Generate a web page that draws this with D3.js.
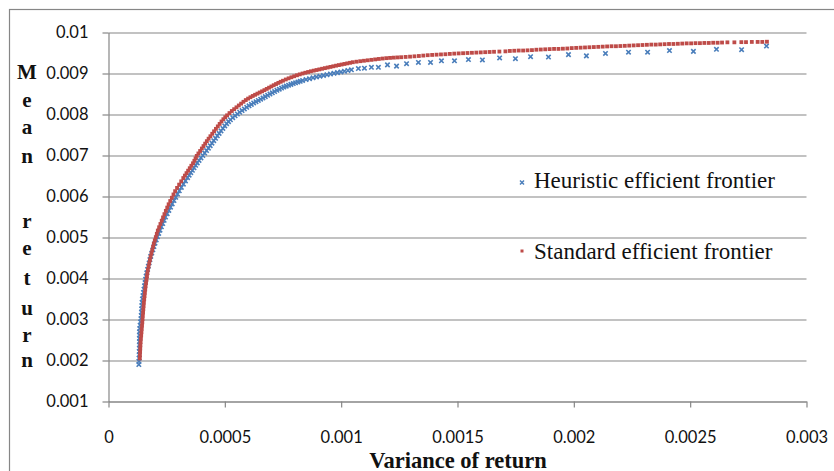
<!DOCTYPE html>
<html>
<head>
<meta charset="utf-8">
<script src="https://cdn.jsdelivr.net/npm/d3@7"></script>
<style>
body{margin:0;background:#fff}
</style>
</head>
<body>
<div id="chart"></div>
<script>

// variance of return in units of 1e-4, mean return in units of 1e-3
const heurVar = [1.304,1.311,1.318,1.322,1.325,1.329,1.332,1.333,1.333,1.333,1.333,1.344,1.361,1.379,1.396,1.409,1.418,1.427,1.435,1.444,
1.459,1.481,1.503,1.526,1.549,1.572,1.595,1.618,1.646,1.679,1.713,1.746,1.780,1.816,1.861,1.906,1.951,1.997,2.051,2.104,
2.158,2.212,2.272,2.331,2.391,2.450,2.522,2.594,2.666,2.738,2.814,2.890,2.966,3.042,3.130,3.219,3.308,3.397,3.466,3.536,
3.606,3.675,3.745,3.815,3.892,3.973,4.053,4.134,4.214,4.294,4.371,4.447,4.524,4.600,4.677,4.754,4.835,4.916,4.997,5.078,
5.159,5.240,5.34,5.44,5.54,5.64,5.74,5.84,5.94,6.04,6.14,6.24,6.34,6.44,6.54,6.64,6.74,6.84,6.94,7.04,
7.14,7.24,7.34,7.44,7.54,7.64,7.74,7.84,7.94,8.04,8.14,8.24,8.34,8.49,8.64,8.79,8.94,9.09,9.24,9.39,
9.54,9.69,9.84,9.99,10.14,10.29,10.44,10.74,11.00,11.30,11.60,11.99,12.38,12.81,13.32,13.84,14.31,14.87,15.47,16.07,
16.81,17.49,18.14,18.91,19.77,20.54,21.36,22.35,23.17,24.11,25.14,26.13,27.21,28.28]

const heurMean = [1.90,1.98,2.06,2.14,2.22,2.30,2.38,2.46,2.54,2.62,2.70,2.78,2.86,2.94,3.02,3.10,3.18,3.26,3.34,3.42,
3.50,3.58,3.66,3.74,3.82,3.90,3.98,4.06,4.14,4.22,4.30,4.38,4.46,4.54,4.62,4.70,4.78,4.86,4.94,5.02,
5.10,5.18,5.26,5.34,5.42,5.50,5.58,5.66,5.74,5.82,5.90,5.98,6.06,6.14,6.22,6.30,6.38,6.46,6.52,6.58,
6.64,6.70,6.76,6.82,6.88,6.94,7.00,7.06,7.12,7.18,7.24,7.30,7.36,7.42,7.48,7.54,7.60,7.66,7.72,7.775,
7.826,7.872,7.922,7.968,8.012,8.055,8.096,8.136,8.175,8.212,8.247,8.281,8.313,8.344,8.374,8.404,8.436,8.468,8.500,8.530,
8.560,8.589,8.617,8.644,8.669,8.692,8.714,8.735,8.755,8.774,8.792,8.810,8.827,8.851,8.874,8.895,8.915,8.934,8.952,8.970,
8.988,9.005,9.021,9.038,9.055,9.073,9.090,9.12,9.13,9.15,9.15,9.21,9.18,9.24,9.27,9.27,9.31,9.31,9.34,9.33,
9.38,9.36,9.41,9.40,9.46,9.43,9.49,9.52,9.52,9.56,9.54,9.59,9.58,9.67]

const stdVar = [1.346,1.352,1.359,1.365,1.372,1.381,1.393,1.405,1.417,1.429,1.441,1.453,1.464,1.475,1.486,1.497,1.509,1.521,1.535,1.550,
1.564,1.579,1.595,1.614,1.633,1.653,1.672,1.693,1.722,1.751,1.780,1.809,1.844,1.878,1.913,1.947,1.990,2.033,2.076,2.119,
2.175,2.232,2.288,2.344,2.404,2.464,2.524,2.584,2.653,2.723,2.793,2.863,2.947,3.036,3.125,3.214,3.282,3.352,3.422,3.492,
3.561,3.631,3.691,3.741,3.792,3.863,3.938,4.012,4.083,4.155,4.226,4.302,4.380,4.459,4.537,4.617,4.697,4.777,4.857,4.937,
5.017,5.097,5.20,5.30,5.40,5.50,5.60,5.70,5.80,5.90,6.00,6.10,6.20,6.30,6.40,6.50,6.60,6.70,6.80,6.90,
7.00,7.10,7.20,7.30,7.40,7.50,7.62,7.74,7.86,7.98,8.10,8.22,8.34,8.46,8.58,8.70,8.82,8.94,9.06,9.18,
9.30,9.42,9.54,9.66,9.78,9.90,10.02,10.14,10.26,10.38,10.50,10.66,10.82,10.98,11.14,11.30,11.46,11.62,11.78,11.94,
12.10,12.26,12.42,12.58,12.77,12.96,13.15,13.34,13.53,13.72,13.91,14.10,14.29,14.48,14.67,14.86,15.05,15.24,15.43,15.62,
15.81,16.00,16.19,16.38,16.57,16.80,17.06,17.25,17.44,17.63,17.82,18.01,18.20,18.39,18.58,18.77,18.96,19.15,19.34,19.53,19.72,
19.91,20.10,20.29,20.48,20.67,20.86,21.05,21.24,21.43,21.62,21.81,22.00,22.19,22.38,22.57,22.76,22.95,23.14,23.33,23.52,
23.71,23.90,24.09,24.28,24.47,24.66,24.85,25.04,25.23,25.42,25.61,25.80,25.99,26.18,26.37,26.60,26.90,27.20,27.40,27.65,
27.90,28.10,28.30]

const stdMean = [2.05,2.13,2.21,2.29,2.37,2.45,2.53,2.61,2.69,2.77,2.85,2.93,3.01,3.09,3.17,3.25,3.33,3.41,3.49,3.57,
3.65,3.73,3.81,3.89,3.97,4.05,4.13,4.21,4.29,4.37,4.45,4.53,4.61,4.69,4.77,4.85,4.93,5.01,5.09,5.17,
5.25,5.33,5.41,5.49,5.57,5.65,5.73,5.81,5.89,5.97,6.05,6.13,6.21,6.29,6.37,6.45,6.51,6.57,6.63,6.69,
6.75,6.81,6.87,6.93,6.99,7.05,7.11,7.17,7.23,7.29,7.35,7.41,7.47,7.53,7.59,7.65,7.71,7.77,7.83,7.885,
7.935,7.980,8.035,8.085,8.130,8.175,8.220,8.265,8.310,8.352,8.388,8.421,8.452,8.481,8.509,8.537,8.565,8.594,8.624,8.654,
8.684,8.714,8.743,8.771,8.798,8.824,8.854,8.882,8.908,8.933,8.957,8.979,9.000,9.019,9.037,9.054,9.070,9.085,9.100,9.116,
9.131,9.146,9.161,9.176,9.191,9.205,9.219,9.233,9.247,9.261,9.275,9.288,9.300,9.311,9.322,9.333,9.344,9.355,9.365,9.374,
9.381,9.387,9.392,9.397,9.404,9.411,9.419,9.427,9.437,9.446,9.453,9.459,9.465,9.470,9.478,9.485,9.490,9.495,9.500,9.505,
9.510,9.515,9.520,9.525,9.530,9.535,9.540,9.550,9.555,9.560,9.560,9.565,9.570,9.580,9.585,9.590,9.595,9.600,9.600,9.605,9.610,
9.620,9.625,9.630,9.635,9.640,9.645,9.650,9.655,9.660,9.665,9.665,9.670,9.675,9.680,9.685,9.690,9.695,9.700,9.705,9.705,
9.710,9.715,9.720,9.720,9.725,9.730,9.735,9.735,9.740,9.740,9.745,9.745,9.750,9.750,9.755,9.760,9.760,9.765,9.765,9.770,
9.770,9.770,9.775]

const xTicks = [0,0.0005,0.001,0.0015,0.002,0.0025,0.003]
const yTicks = [0.001,0.002,0.003,0.004,0.005,0.006,0.007,0.008,0.009,0.01]
const seriesNames = ["Heuristic efficient frontier","Standard efficient frontier"]
const xTitle = "Variance of return"
const yTitleLetters = ["M","e","a","n","r","e","t","u","r","n"]

const width = 834
const height = 471
const gridColor = "#868686"
const blue = "#4a7ebb"
const red = "#be4b48"

const heur = heurVar.map((v,i)=>({v:v*1e-4, m:heurMean[i]*1e-3}))
const std = stdVar.map((v,i)=>({v:v*1e-4, m:stdMean[i]*1e-3}))

const svg = d3.select("#chart")
.append("svg")
.attr("width",width)
.attr("height",height)
.style("display","block")

// outer chart border
svg.append("rect")
.attr("x",9.5)
.attr("y",9.5)
.attr("width",840)
.attr("height",480)
.attr("fill","#fff")
.attr("stroke",gridColor)
.attr("stroke-width",1.2)

const x = d3.scaleLinear().domain([0,0.003]).range([108.5,806.5])
const y = d3.scaleLinear().domain([0.001,0.01]).range([401.5,32.5])

const fmt = d => d===0 ? "0" : String(+d.toFixed(4))

// horizontal gridlines
svg.append("g")
.attr("transform","translate(108.5,0)")
.call(d3.axisLeft(y).tickValues(yTicks).tickSize(-(806.5-108.5)).tickFormat(""))
.call(g=>g.select(".domain").remove())
.call(g=>g.selectAll("line").attr("stroke",gridColor).attr("stroke-width",1.2))

// y axis
const gy = svg.append("g")
.attr("transform","translate(108.5,0)")
.call(d3.axisLeft(y).tickValues(yTicks).tickSize(6).tickSizeOuter(0).tickPadding(14).tickFormat(fmt))

// x axis
const gx = svg.append("g")
.attr("transform","translate(0,401.5)")
.call(d3.axisBottom(x).tickValues(xTicks).tickSize(6).tickSizeOuter(0).tickPadding(24).tickFormat(fmt))

for(const g of [gx,gy]){
g.select(".domain").attr("stroke",gridColor).attr("stroke-width",1.2)
g.selectAll(".tick line").attr("stroke",gridColor).attr("stroke-width",1.2)
g.selectAll("text")
.attr("fill","#111")
.attr("font-family","Lato, 'Open Sans', sans-serif")
.attr("font-size","16.5px")
}

const crossPath = s => `M${-s},${-s}L${s},${s}M${-s},${s}L${s},${-s}`

// heuristic frontier (blue x markers)
svg.append("g")
.selectAll("path")
.data(heur)
.enter()
.append("path")
.attr("transform",d=>`translate(${x(d.v)},${y(d.m)})`)
.attr("d",crossPath(2.2))
.attr("stroke",blue)
.attr("stroke-width",1.6)
.attr("fill","none")

// standard frontier (red squares)
svg.append("g")
.selectAll("rect")
.data(std)
.enter()
.append("rect")
.attr("x",d=>x(d.v)-1.9)
.attr("y",d=>y(d.m)-1.9)
.attr("width",3.8)
.attr("height",3.8)
.attr("fill",red)

// legend
const legend = svg.append("g").attr("font-family","'Liberation Serif', 'Times New Roman', serif").attr("font-size","23px")

legend.append("path")
.attr("transform","translate(522,182.5)")
.attr("d",crossPath(2))
.attr("stroke",blue)
.attr("stroke-width",1.5)

legend.append("rect")
.attr("x",520.5)
.attr("y",249.5)
.attr("width",3)
.attr("height",3)
.attr("fill",red)

legend.selectAll("text")
.data(seriesNames)
.enter()
.append("text")
.attr("x",534)
.attr("y",(d,i)=>i===0 ? 188 : 258.5)
.attr("fill","#111")
.text(d=>d)

// axis titles
svg.append("text")
.attr("x",458)
.attr("y",467.5)
.attr("text-anchor","middle")
.attr("font-family","'Liberation Serif', 'Times New Roman', serif")
.attr("font-weight","bold")
.attr("font-size","22.5px")
.attr("fill","#111")
.text(xTitle)

const letterY = [79,107,134,163,228,255,285,315,342,367]

svg.append("g")
.selectAll("text")
.data(yTitleLetters)
.enter()
.append("text")
.attr("x",27)
.attr("y",(d,i)=>letterY[i])
.attr("text-anchor","middle")
.attr("font-family","'Liberation Serif', 'Times New Roman', serif")
.attr("font-weight","bold")
.attr("font-size","21px")
.attr("fill","#111")
.text(d=>d)

</script>
</body>
</html>
